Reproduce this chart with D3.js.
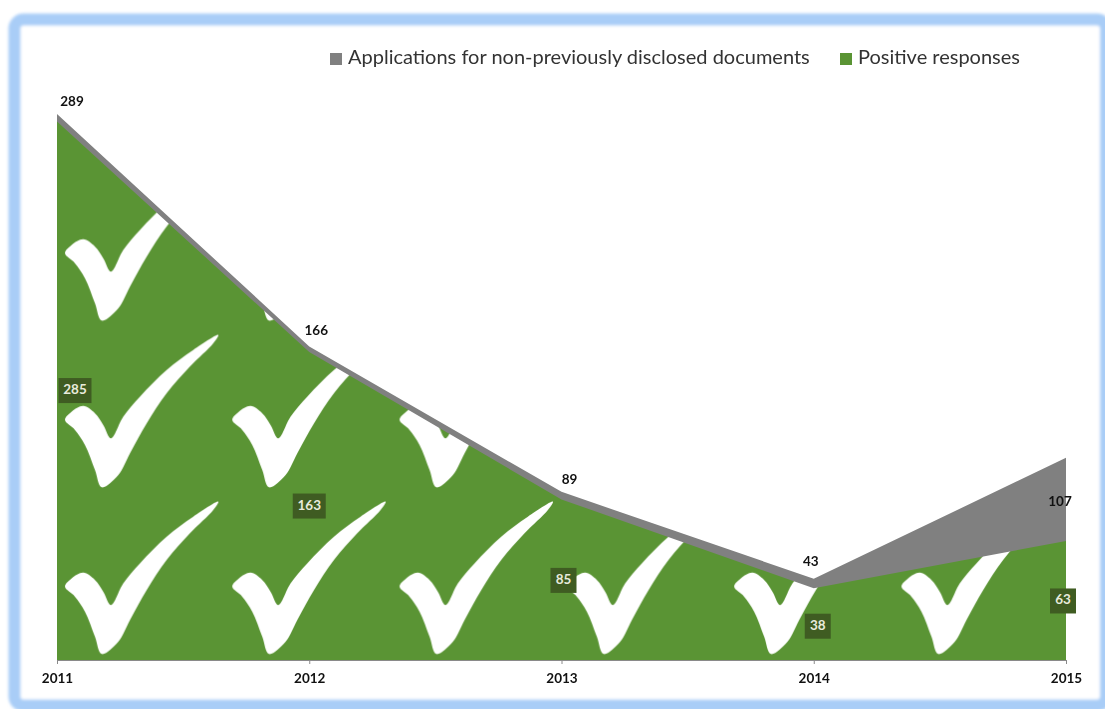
<!DOCTYPE html>
<html><head><meta charset="utf-8">
<script src="https://cdn.jsdelivr.net/npm/d3@7/dist/d3.min.js"></script>
<style>html,body{margin:0;padding:0;background:#fff;overflow:hidden}svg{display:block;filter:blur(.6px)}text{font-family:Lato,"Open Sans",sans-serif}</style>
</head><body><svg id="c" width="1105" height="709"></svg>
<script>
const years = ["2011","2012","2013","2014","2015"];
const applications = [289,166,89,43,107];
const positive = [285,163,85,38,63];
const seriesNames = ["Applications for non-previously disclosed documents","Positive responses"];
const seriesColors = ["#808080","#5a9434"];

const svg = d3.select("#c");
const defs = svg.append("defs");
defs.append("filter").attr("id","soft").append("feGaussianBlur").attr("stdDeviation",1.6);

// frame
svg.append("rect").attr("x",14.5).attr("y",19.5).attr("width",1091.5).attr("height",686)
  .attr("rx",9).attr("fill","#fff").attr("stroke","#a9cdf7").attr("stroke-width",12).attr("filter","url(#soft)");

const x = d3.scalePoint().domain(years).range([57,1066]);
const y = d3.scaleLinear().domain([0,289]).range([660,114]);
const area = vals => d3.area().x((d,i)=>x(years[i])).y0(y(0)).y1(d=>y(d))(vals);

// check-mark fill of the green area
const checkOutline = [[8,93.7],[14.7,85.3],[26.3,79.7],[38,87],[46.3,98.7],[54,112],[66.3,90.3],[83,70.3],[109.7,43.7],[136.3,23.7],[161.3,8.7],[156.3,17],[133,40.3],[109.7,67],[89.7,97],[73,127],[61.3,148.7],[44.7,161],[38,143.7],[28,118.7],[18,103.7]];
const tile = defs.append("pattern").attr("id","ticks").attr("patternUnits","userSpaceOnUse")
  .attr("x",57).attr("y",493).attr("width",167.3).attr("height",166.7);
tile.append("rect").attr("width",168).attr("height",167).attr("fill",seriesColors[1]);
tile.append("path").attr("fill","#fff").attr("d",d3.line().curve(d3.curveCatmullRomClosed.alpha(0.5))(checkOutline));

svg.append("path").attr("d",area(applications)).attr("fill",seriesColors[0]);
svg.append("path").attr("d",area(positive)).attr("fill","url(#ticks)");

// axis
const axis = d3.axisBottom(x).tickSize(4).tickPadding(9);
const gx = svg.append("g").attr("transform","translate(0,660)").call(axis);
gx.selectAll("path,line").attr("stroke","#8a8a8a");
gx.selectAll("text").attr("fill","#111").style("font-size","13.5px").style("font-family","Lato,sans-serif").style("font-weight","700");

// labels
const topOffsets = [[15,-11],[7,-15],[8,-11],[-3,-16],[-6,45]];
svg.append("g").selectAll("text").data(applications).join("text")
  .attr("x",(d,i)=>x(years[i])+topOffsets[i][0]).attr("y",(d,i)=>y(d)+topOffsets[i][1])
  .attr("text-anchor","middle").attr("dominant-baseline","middle")
  .attr("font-size",13.5).attr("font-weight",700).attr("fill","#111").text(d=>d);

const boxOffsets = [[18,269],[0,154],[2,81],[4,38],[-3,60]];
const lab = svg.append("g").selectAll("g").data(positive).join("g")
  .attr("transform",(d,i)=>`translate(${x(years[i])+boxOffsets[i][0]},${y(d)+boxOffsets[i][1]})`);
lab.append("rect").attr("x",d=>d>=100?-16.5:-13).attr("y",-12.5)
  .attr("width",d=>d>=100?33:26).attr("height",25).attr("fill","#3f5c22");
lab.append("text").attr("text-anchor","middle").attr("dominant-baseline","middle")
  .attr("font-size",13.5).attr("font-weight",700).attr("fill","#e8eadc").text(d=>d);

// legend
const legendX = [330,840], textX = [348,858];
const leg = svg.append("g").selectAll("g").data(seriesNames).join("g");
leg.append("rect").attr("x",(d,i)=>legendX[i]).attr("y",53).attr("width",12).attr("height",12)
  .attr("fill",(d,i)=>seriesColors[i]);
leg.append("text").attr("x",(d,i)=>textX[i]).attr("y",59).attr("dominant-baseline","middle")
  .attr("font-size",20).attr("fill","#333").text(d=>d);
</script></body></html>
